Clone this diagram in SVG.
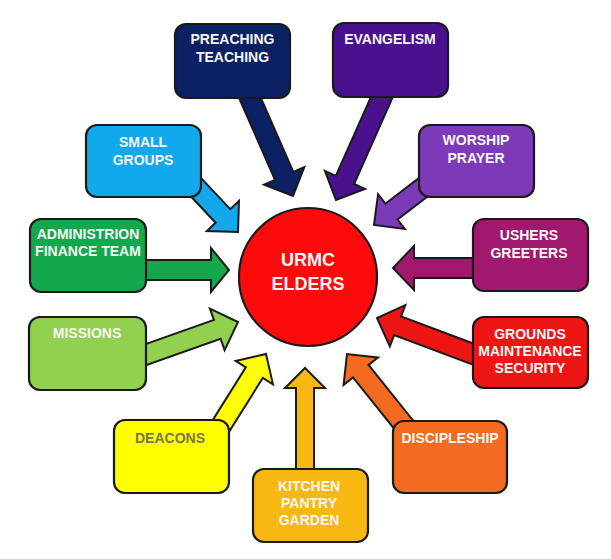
<svg xmlns="http://www.w3.org/2000/svg" width="611" height="559" viewBox="0 0 611 559">
<style>
.ar{stroke:#1a1a1a;stroke-width:2;stroke-linejoin:miter}
.bx{stroke:#1a1a1a;stroke-width:2.2}
.t{font-family:"Liberation Sans",Arial,sans-serif;font-weight:bold;font-size:14px;fill:#f7f7f7;text-anchor:middle}
.tc{font-family:"Liberation Sans",Arial,sans-serif;font-weight:bold;font-size:18px;fill:#f7f7f7;text-anchor:middle}
</style>
<rect width="611" height="559" fill="#ffffff"/>
<g id="connectors">
<polygon class="ar" fill="#0b2163" transform="translate(293,196) rotate(66.3)" points="-115,-10 -22,-10 -22,-22 0,0 -22,22 -22,10 -115,10"/>
<polygon class="ar" fill="#4a118f" transform="translate(336,200) rotate(114)" points="-120,-10 -22,-10 -22,-22 0,0 -22,22 -22,10 -120,10"/>
<polygon class="ar" fill="#7d3ab8" transform="translate(374,225) rotate(142.5)" points="-71,-10 -22,-10 -22,-22 0,0 -22,22 -22,10 -71,10"/>
<polygon class="ar" fill="#a1186f" transform="translate(393,268) rotate(180)" points="-87,-10 -21,-10 -21,-22 0,0 -21,22 -21,10 -87,10"/>
<polygon class="ar" fill="#ee1515" transform="translate(377,318) rotate(200.6)" points="-111,-10 -22,-10 -22,-22 0,0 -22,22 -22,10 -111,10"/>
<polygon class="ar" fill="#f26b21" transform="translate(347,354) rotate(231.3)" points="-98,-10 -22,-10 -22,-22 0,0 -22,22 -22,10 -98,10"/>
<polygon class="ar" fill="#f9b712" transform="translate(305,368) rotate(-90)" points="-108,-9 -20,-9 -20,-20 0,0 -20,20 -20,9 -108,9"/>
<polygon class="ar" fill="#ffff00" transform="translate(266,354) rotate(-57.9)" points="-92,-10 -22,-10 -22,-22 0,0 -22,22 -22,10 -92,10"/>
<polygon class="ar" fill="#92d050" transform="translate(238,322) rotate(-19.5)" points="-105,-10 -22,-10 -22,-22 0,0 -22,22 -22,10 -105,10"/>
<polygon class="ar" fill="#14a84c" transform="translate(229,270)" points="-89,-10 -18,-10 -18,-22 0,0 -18,22 -18,10 -89,10"/>
<polygon class="ar" fill="#12a9ec" transform="translate(238,232) rotate(46.8)" points="-69,-10 -22,-10 -22,-22 0,0 -22,22 -22,10 -69,10"/>
</g>
<g id="center">
<circle cx="308" cy="277" r="69" fill="#fe0a0a" stroke="#1a1a1a" stroke-width="2.2"/>
<text class="tc" x="308" y="266">URMC</text>
<text class="tc" x="308" y="290">ELDERS</text>
</g>
<g id="preaching">
<rect class="bx" x="175" y="24" width="115" height="74" rx="11" fill="#0b2163"/>
<text class="t" x="232.5" y="44">PREACHING</text>
<text class="t" x="232.5" y="62">TEACHING</text>
</g>
<g id="evangelism">
<rect class="bx" x="333" y="23" width="115" height="74" rx="11" fill="#4a118f"/>
<text class="t" x="390" y="44">EVANGELISM</text>
</g>
<g id="worship">
<rect class="bx" x="419" y="125" width="115" height="72" rx="11" fill="#7d3ab8"/>
<text class="t" x="476" y="145">WORSHIP</text>
<text class="t" x="476" y="163">PRAYER</text>
</g>
<g id="ushers">
<rect class="bx" x="473" y="219" width="115" height="72" rx="11" fill="#a1186f"/>
<text class="t" x="529" y="240">USHERS</text>
<text class="t" x="529" y="258">GREETERS</text>
</g>
<g id="grounds">
<rect class="bx" x="473" y="317" width="115" height="71" rx="11" fill="#ee1515"/>
<text class="t" x="530" y="339">GROUNDS</text>
<text class="t" x="530" y="356">MAINTENANCE</text>
<text class="t" x="530" y="373">SECURITY</text>
</g>
<g id="discipleship">
<rect class="bx" x="393" y="421" width="114" height="72" rx="11" fill="#f26b21"/>
<text class="t" x="450" y="443">DISCIPLESHIP</text>
</g>
<g id="kitchen">
<rect class="bx" x="253" y="469" width="115" height="73" rx="11" fill="#f9b712"/>
<text class="t" x="309" y="491">KITCHEN</text>
<text class="t" x="309" y="508">PANTRY</text>
<text class="t" x="309" y="525">GARDEN</text>
</g>
<g id="deacons">
<rect class="bx" x="114" y="420" width="115" height="73" rx="11" fill="#ffff00"/>
<text class="t" x="170" y="443" style="fill:#77774a">DEACONS</text>
</g>
<g id="missions">
<rect class="bx" x="29" y="317" width="117" height="73" rx="11" fill="#92d050"/>
<text class="t" x="87" y="338">MISSIONS</text>
</g>
<g id="admin">
<rect class="bx" x="30" y="219" width="116" height="73" rx="11" fill="#14a84c"/>
<text class="t" x="88" y="239">ADMINISTRION</text>
<text class="t" x="88" y="256">FINANCE TEAM</text>
</g>
<g id="smallgroups">
<rect class="bx" x="86" y="125" width="115" height="72" rx="11" fill="#12a9ec"/>
<text class="t" x="143" y="147">SMALL</text>
<text class="t" x="143" y="165">GROUPS</text>
</g>
</svg>
